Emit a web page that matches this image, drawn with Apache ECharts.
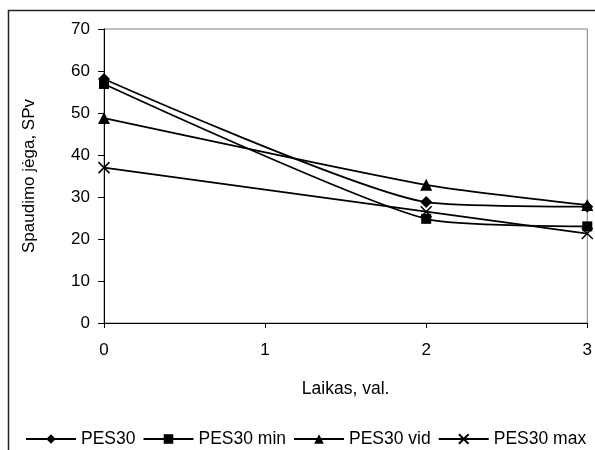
<!DOCTYPE html>
<html>
<head>
<meta charset="utf-8">
<script src="https://cdn.jsdelivr.net/npm/echarts@6/dist/echarts.min.js"></script>
<style>html,body{margin:0;padding:0;background:#fff;}#c{width:595px;height:450px;}</style>
</head>
<body>
<div id="c"></div>
<script>
var times = [0, 2, 3];
var pes30 = [58.1, 28.8, 27.7];
var pes30min = [56.9, 24.8, 23.0];
var pes30vid = [48.8, 32.9, 28.1];
var pes30max = [37.0, 26.5, 21.3];
var seriesNames = ['PES30', 'PES30 min', 'PES30 vid', 'PES30 max'];
var xTicks = [0, 1, 2, 3];
var yTicks = [0, 10, 20, 30, 40, 50, 60, 70];

var FONT = '"Liberation Sans", Arial, sans-serif';
function pts(vals) { return times.map(function (t, i) { return [t, vals[i]]; }); }
var crossPath = 'path://M0,0L10,10M10,0L0,10';
var symbols = ['diamond', 'rect', 'triangle', crossPath];
var sizes = [12, 10, 12, 11];
var allVals = [pes30, pes30min, pes30vid, pes30max];

var chart = echarts.init(document.getElementById('c'), null, {renderer: 'canvas'});
chart.setOption({
  animation: false,
  backgroundColor: '#fff',
  textStyle: {fontFamily: FONT, color: '#000'},
  graphic: [{
    type: 'rect', z: -1, silent: true,
    shape: {x: 8.5, y: 10.5, width: 700, height: 600},
    style: {fill: 'none', stroke: '#222', lineWidth: 1.5}
  }],
  grid: {left: 104, top: 29, right: 6, bottom: 127, show: true, borderColor: '#808080', borderWidth: 1},
  legend: {
    left: 20, top: 425,
    itemWidth: 50, itemHeight: 12, itemGap: 7,
    textStyle: {fontFamily: FONT, fontSize: 17.5, color: '#000'},
    data: seriesNames
  },
  xAxis: {
    type: 'value', min: xTicks[0], max: xTicks[xTicks.length - 1], interval: 1,
    name: 'Laikas, val.', nameLocation: 'middle', nameGap: 57,
    nameTextStyle: {fontFamily: FONT, fontSize: 17.5, color: '#000'},
    axisLine: {show: true, lineStyle: {color: '#000', width: 1}},
    axisTick: {show: true, length: 5, lineStyle: {color: '#000'}},
    axisLabel: {fontFamily: FONT, fontSize: 17, color: '#000', margin: 19},
    splitLine: {show: false}
  },
  yAxis: {
    type: 'value', min: yTicks[0], max: yTicks[yTicks.length - 1], interval: 10,
    name: 'Spaudimo jėga, SPv', nameLocation: 'middle', nameGap: 66,
    nameTextStyle: {fontFamily: FONT, fontSize: 17, color: '#000'},
    axisLine: {show: true, lineStyle: {color: '#000', width: 1}},
    axisTick: {show: true, length: 6, lineStyle: {color: '#000'}},
    axisLabel: {fontFamily: FONT, fontSize: 17, color: '#000', margin: 14},
    splitLine: {show: false}
  },
  series: seriesNames.map(function (n, i) {
    return {
      name: n, type: 'line', smooth: 0.2,
      data: pts(allVals[i]),
      symbol: symbols[i], symbolSize: sizes[i],
      lineStyle: {color: '#000', width: 1.8},
      itemStyle: {color: '#000', borderColor: '#000', borderWidth: i === 3 ? 1.5 : 0},
      z: 2 + i
    };
  })
});
</script>
</body>
</html>
